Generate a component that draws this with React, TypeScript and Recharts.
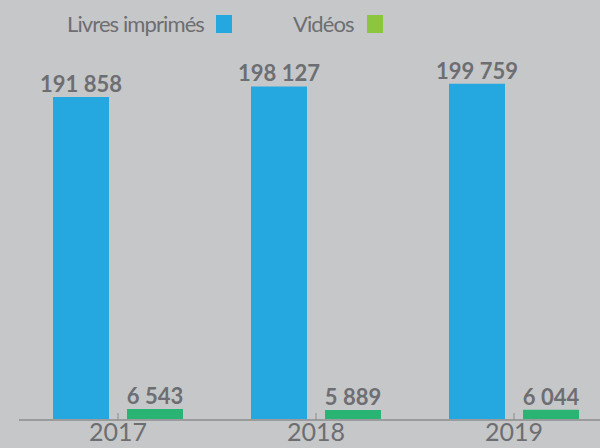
import React from 'react';
import { BarChart, Bar, XAxis, YAxis, LabelList } from 'recharts';

const years = ['2017', '2018', '2019'];
const livres = [191858, 198127, 199759];
const videos = [6543, 5889, 6044];

const data = years.map((y, i) => ({ year: y, livres: livres[i], videos: videos[i] }));

const TEXT = '#6d6e71';
const BLUE = '#25a8e0';
const GREEN = '#29b473';
const GREEN_LEGEND = '#8cc63f';
const FONT = 'Lato, "Open Sans", sans-serif';

const fmt = (v: any) => String(v).replace(/\B(?=(\d{3})+(?!\d))/g, ' ');

const YearTick = (props: any) => {
  const { x, y, payload } = props;
  return (
    <g>
      <line x1={x} y1={y} x2={x} y2={y - 7} stroke="#8a8b8d" strokeWidth={1} />
      <text x={x} y={y + 21} textAnchor="middle" fill={TEXT} fontSize={25} fontFamily={FONT}>
        {payload.value}
      </text>
    </g>
  );
};

export default function App() {
  return (
    <div style={{ position: 'fixed', left: 0, top: 0, width: 600, height: 448, overflow: 'hidden', background: '#c6c7c9' }}>
      <div style={{ position: 'absolute', left: 67, top: 10, display: 'flex', alignItems: 'center', fontFamily: FONT, fontSize: 22, letterSpacing: -0.9, color: TEXT }}>
        <span>Livres imprimés</span>
        <span style={{ display: 'inline-block', width: 16, height: 18, background: BLUE, marginLeft: 12 }} />
        <span style={{ marginLeft: 61 }}>Vidéos</span>
        <span style={{ display: 'inline-block', width: 16, height: 18, background: GREEN_LEGEND, marginLeft: 13 }} />
      </div>
      <BarChart
        width={613}
        height={448}
        data={data}
        margin={{ top: 20, right: 0, bottom: 0, left: 19 }}
        barSize={56}
        barGap={18}
      >
        <XAxis
          dataKey="year"
          height={28}
          tickSize={0}
          tickMargin={0}
          tickLine={false}
          axisLine={{ stroke: '#9a9b9d', strokeWidth: 2 }}
          tick={<YearTick />}
          interval={0}
        />
        <YAxis hide domain={[0, 237600]} />
        <Bar dataKey="livres" fill={BLUE} isAnimationActive={false}>
          <LabelList
            dataKey="livres"
            position="top"
            offset={5}
            formatter={fmt}
            fill={TEXT}
            fontSize={22}
            fontWeight={700}
            fontFamily={FONT}
          />
        </Bar>
        <Bar dataKey="videos" fill={GREEN} isAnimationActive={false}>
          <LabelList
            dataKey="videos"
            position="top"
            offset={5}
            formatter={fmt}
            fill={TEXT}
            fontSize={22}
            fontWeight={700}
            fontFamily={FONT}
          />
        </Bar>
      </BarChart>
    </div>
  );
}
